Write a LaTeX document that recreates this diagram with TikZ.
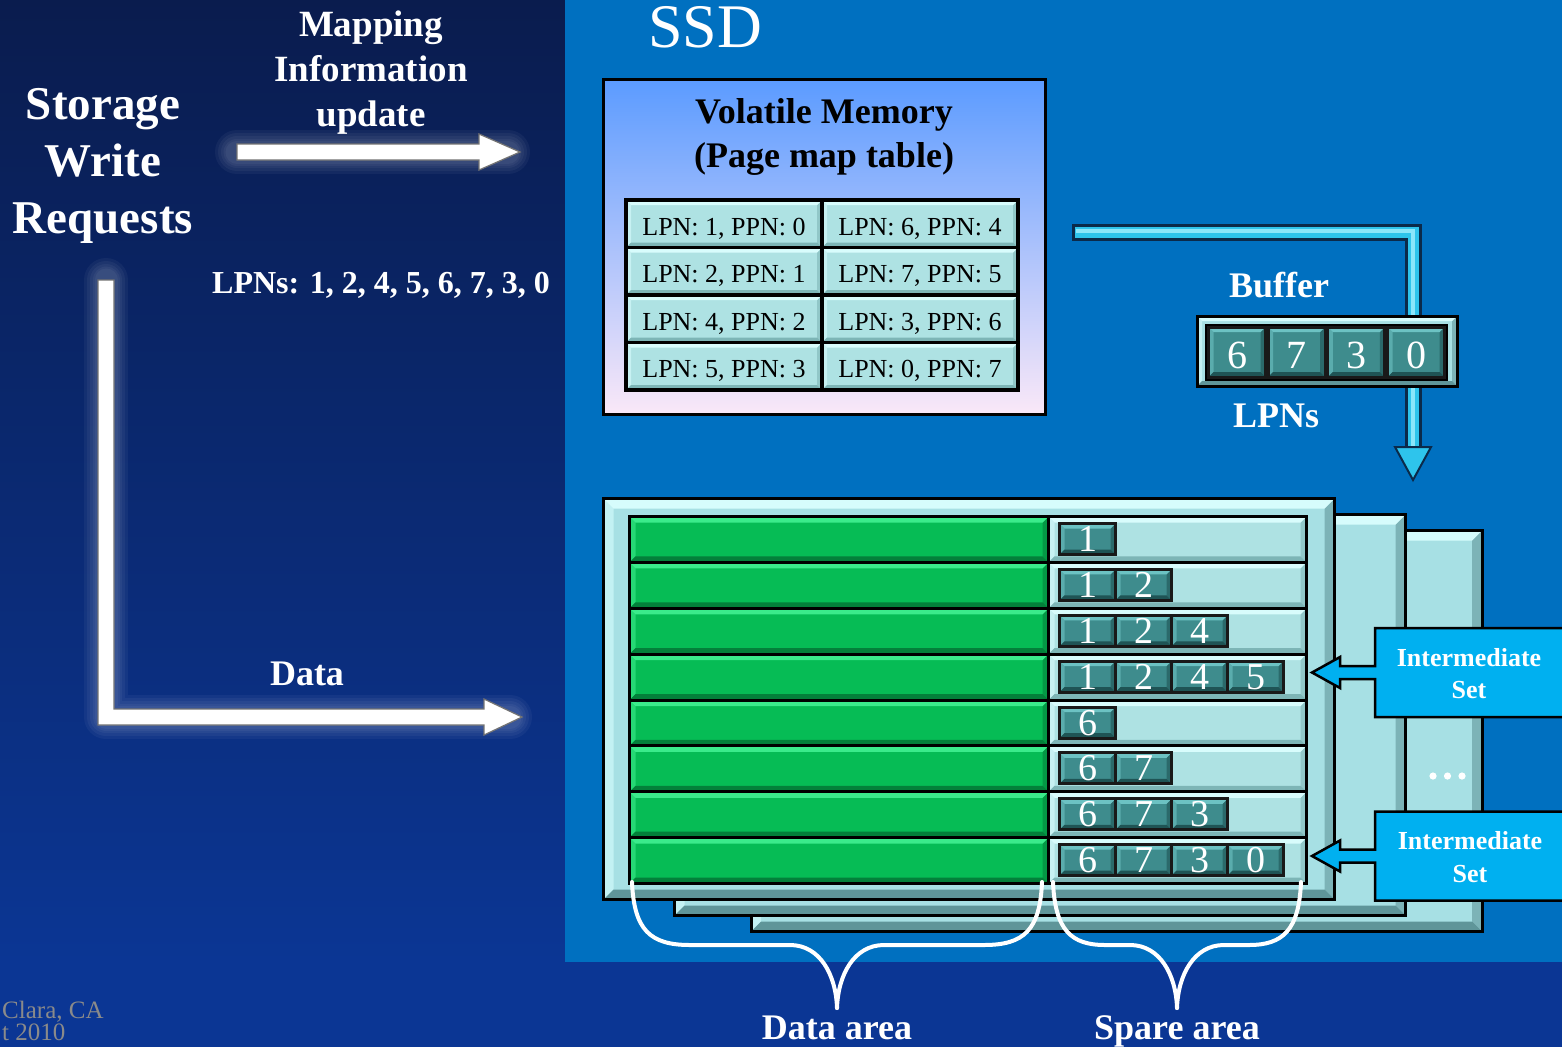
\documentclass[tikz,border=0pt]{standalone}
\usepackage{fontspec}
\setmainfont{Liberation Serif}
\usetikzlibrary{calc}
\newcommand\myfs[1]{\fontsize{#1}{#1}\selectfont}
\definecolor{navyTop}{HTML}{0A1C4E}
\definecolor{navyBot}{HTML}{0B3694}
\definecolor{ssdBlue}{HTML}{0070C0}
\definecolor{stripBlue}{HTML}{0B3694}
\definecolor{vmTop}{HTML}{5B9BFF}
\definecolor{vmBot}{HTML}{FAE8F8}
\definecolor{cellBase}{HTML}{AEE2E3}
\definecolor{cellLight}{HTML}{D8FCFC}
\definecolor{cellDark}{HTML}{7DB5B6}
\definecolor{tealBase}{HTML}{3E8C8D}
\definecolor{tealLight}{HTML}{6CC2C3}
\definecolor{tealDark}{HTML}{1F5455}
\definecolor{greenBase}{HTML}{06BC55}
\definecolor{greenLight}{HTML}{3BEB8B}
\definecolor{greenDark}{HTML}{03803A}
\definecolor{blockBase}{HTML}{A7E0E4}
\definecolor{blockLight}{HTML}{D6FCFC}
\definecolor{blockDark}{HTML}{5F9599}
\definecolor{interBlue}{HTML}{00B0F0}
\definecolor{arrowCyan}{HTML}{2EC4EC}
\definecolor{arrowCyanHi}{HTML}{8BE6FA}
\definecolor{arrowEdge}{HTML}{0B2A4A}
\definecolor{footGrey}{HTML}{8A8A8A}
\tikzset{
  bevel/.style n args={4}{fill=#1, path picture={
    \path (path picture bounding box.north west) coordinate (bvNW)
          (path picture bounding box.north east) coordinate (bvNE)
          (path picture bounding box.south west) coordinate (bvSW)
          (path picture bounding box.south east) coordinate (bvSE);
    \fill[#2!60!#1] (bvNW) -- ([shift={(#4,-#4)}]bvNW) -- ([shift={(#4,#4)}]bvSW) -- (bvSW) -- cycle;
    \fill[#3!60!#1] (bvNE) -- ([shift={(-#4,-#4)}]bvNE) -- ([shift={(-#4,#4)}]bvSE) -- (bvSE) -- cycle;
    \fill[#2] (bvNW) -- (bvNE) -- ([shift={(-#4,-#4)}]bvNE) -- ([shift={(#4,-#4)}]bvNW) -- cycle;
    \fill[#3] (bvSW) -- (bvSE) -- ([shift={(-#4,#4)}]bvSE) -- ([shift={(#4,#4)}]bvSW) -- cycle;
  }},
  tcell/.style={draw=black, line width=3.5pt, bevel={cellBase}{cellLight}{cellDark}{5pt},
    minimum width=196pt, minimum height=47.5pt, inner sep=0pt, font=\myfs{26},
    text height=23pt, text depth=0pt},
  tealcell/.style={draw=black!90, line width=3pt, bevel={tealBase}{tealLight}{tealDark}{5pt},
    text=white, inner sep=0pt, text depth=0pt},
  sparedigit/.style={tealcell, minimum width=56pt, minimum height=31pt, font=\myfs{38}, text height=25pt},
  bufdigit/.style={tealcell, minimum width=57pt, minimum height=50pt, font=\myfs{40}, text height=32pt},
  blockbox/.style={draw=black, line width=3pt, bevel={blockBase}{blockLight}{blockDark}{10pt},
    minimum width=731pt, minimum height=401pt, inner sep=0pt},
  greenbar/.style={draw=black, line width=3pt, bevel={greenBase}{greenLight}{greenDark}{6pt},
    minimum width=419pt, minimum height=45.875pt, inner sep=0pt},
  sparebar/.style={draw=black, line width=3pt, bevel={cellBase}{cellLight}{cellDark}{6pt},
    minimum width=258pt, minimum height=45.875pt, inner sep=0pt},
  callout/.style={fill=interBlue, draw=black, line width=2.5pt, line join=miter},
  wtext/.style={text=white, font=\bfseries\myfs{#1}, inner sep=0pt, anchor=base},
  warrow/.style={fill=white, draw=black!55, line width=1.2pt, line join=miter},
  glow/.style={draw=white, opacity=0.045, line join=round, line cap=round},
  brace/.style={draw=white, line width=4pt, line cap=round},
}
\begin{document}
\begin{tikzpicture}[x=1pt,y=-1pt]
\useasboundingbox (0,0) rectangle (1562,1047);
% backgrounds
\shade[top color=navyTop, bottom color=navyBot] (0,0) rectangle (565,962);
\fill[stripBlue] (0,962) rectangle (1562,1047);
\fill[ssdBlue] (565,0) rectangle (1562,962);

\node[text=white, font=\myfs{62}, inner sep=0pt, anchor=base west] (ssd) at (648,47) {SSD};

% volatile memory
\node[draw=black, line width=3pt, top color=vmTop, bottom color=vmBot,
      minimum width=442pt, minimum height=335pt, inner sep=0pt] (vm) at (824,246.5) {};
\node[font=\bfseries\myfs{36}, inner sep=0pt, anchor=base] (vmt1) at (824,123) {Volatile Memory};
\node[font=\bfseries\myfs{36}, inner sep=0pt, anchor=base] (vmt2) at (824,167) {(Page map table)};
\foreach [count=\r from 0] \a/\b in {{LPN: 1, PPN: 0}/{LPN: 6, PPN: 4},{LPN: 2, PPN: 1}/{LPN: 7, PPN: 5},{LPN: 4, PPN: 2}/{LPN: 3, PPN: 6},{LPN: 5, PPN: 3}/{LPN: 0, PPN: 7}}{
  \pgfmathsetmacro\yc{200+47.5*(\r+0.5)}
  \node[tcell] (pm\r a) at (724,\yc) {\a};
  \node[tcell] (pm\r b) at (920,\yc) {\b};
}

% cyan arrow to flash
\coordinate (cS) at (1072,232);
\coordinate (cC) at (1413,232);
\coordinate (cE) at (1413,480);
\draw[line width=17pt, arrowEdge, line join=miter] (cS) -- (cC) -- ($(cE)+(0,-30)$);
\draw[line width=11pt, arrowCyan, line join=miter, shorten <=3pt] (cS) -- (cC) -- ($(cE)+(0,-28)$);
\draw[line width=3.5pt, arrowCyanHi, line join=miter, shorten <=4pt] ($(cS)+(0,-1)$) -- ($(cC)+(0,-1)$) -- ($(cE)+(0,-30)$);
\draw[fill=arrowCyan, draw=arrowEdge, line width=2pt, line join=miter]
  ($(cE)+(-18,-33)$) -- ($(cE)+(18,-33)$) -- (cE) -- cycle;

% buffer
\node[wtext=36] (buflab) at (1279,297) {Buffer};
\node[draw=black, line width=3pt, bevel={blockBase}{blockLight}{blockDark}{5pt},
      minimum width=260pt, minimum height=70pt, inner sep=0pt] (buf) at (1327,351) {};
\node[fill=black, minimum width=243pt, minimum height=57pt, inner sep=0pt] (bufin) at (1326,352) {};
\foreach [count=\i from 0] \d in {6,7,3,0}{
  \node[bufdigit] (b\i) at ({1237+59.7*\i},352) {\d};
}
\node[wtext=36] (buflpn) at (1276,427) {LPNs};

% flash blocks
\node[blockbox] (blk3) at (1116.5,731) {};
\node[blockbox] (blk2) at (1040,715) {};
\node[blockbox] (blk1) at (969,699) {};
\foreach [count=\r from 0] \lst in {{1},{1,2},{1,2,4},{1,2,4,5},{6},{6,7},{6,7,3},{6,7,3,0}}{
  \pgfmathsetmacro\yt{515+45.875*\r}
  \node[greenbar, anchor=north west] (g\r) at (628,\yt) {};
  \node[sparebar, anchor=north west] (s\r) at (1047,\yt) {};
  \foreach [count=\c from 0] \d in \lst {
    \node[sparedigit, anchor=north west] (t\r-\c) at ({1058+56*\c},{\yt+7}) {\d};
  }
}

% intermediate set callouts
\coordinate (i1) at (1312,672.5);
\coordinate (i2) at (1312,856);
\foreach \p in {i1,i2}{
  \draw[callout] ($(\p)+(256,-44.5)$) -- ($(\p)+(63,-44.5)$) -- ($(\p)+(63,-6.5)$) -- ($(\p)+(28,-6.5)$)
    -- ($(\p)+(28,-15.5)$) -- (\p) -- ($(\p)+(28,15.5)$) -- ($(\p)+(28,6.5)$) -- ($(\p)+(63,6.5)$)
    -- ($(\p)+(63,44.5)$) -- ($(\p)+(256,44.5)$);
}
\node[wtext=26] (is1a) at (1469,666) {Intermediate};
\node[wtext=26] (is1b) at (1469,698) {Set};
\node[wtext=26] (is2a) at (1470,849) {Intermediate};
\node[wtext=26] (is2b) at (1470,882) {Set};
\fill[white] (1433,776) circle (3.6) (1447.5,776) circle (3.6) (1462,776) circle (3.6);

% braces
\coordinate (dA) at (837,1008);
\coordinate (sA) at (1177,1008);
\draw[brace] (632,882) .. controls (634,930) and (650,945) .. (690,945) -- (790,945)
  .. controls (820,945) and (836,975) .. (dA);
\draw[brace] (1042,882) .. controls (1040,930) and (1024,945) .. (984,945) -- (884,945)
  .. controls (854,945) and (838,975) .. (dA);
\draw[brace] (1053,882) .. controls (1055,930) and (1071,945) .. (1105,945) -- (1130,945)
  .. controls (1160,945) and (1176,975) .. (sA);
\draw[brace] (1301,882) .. controls (1299,930) and (1283,945) .. (1249,945) -- (1224,945)
  .. controls (1194,945) and (1178,975) .. (sA);
\node[wtext=36] (darea) at (837,1039) {Data area};
\node[wtext=36] (sarea) at (1177,1039) {Spare area};

% left side
\node[wtext=47] (sw1) at (103,119) {Storage};
\node[wtext=47] (sw2) at (103,176) {Write};
\node[wtext=47] (sw3) at (103,233) {Requests};
\node[wtext=37] (mi1) at (371,36) {Mapping};
\node[wtext=37] (mi2) at (371,81) {Information};
\node[wtext=37] (mi3) at (371,126) {update};
\coordinate (mapS) at (237,152);
\coordinate (mapE) at (520,152);
\coordinate (dS) at (106,280);
\coordinate (dC) at (106,717);
\coordinate (dE) at (522,717);
\foreach \w in {44,38,32,27,23}{
  \draw[glow, line width=\w pt] (mapS) -- ($(mapE)+(-12,0)$);
  \draw[glow, line width=\w pt] (dS) -- (dC) -- ($(dE)+(-12,0)$);
}
\draw[warrow] ($(mapS)+(0,-8)$) -- ($(mapE)+(-41,-8)$) -- ($(mapE)+(-41,-18)$) -- (mapE)
  -- ($(mapE)+(-41,18)$) -- ($(mapE)+(-41,8)$) -- ($(mapS)+(0,8)$) -- cycle;
\node[wtext=32, anchor=base west] (lpns) at (212,293) {LPNs: 1, 2, 4, 5, 6, 7, 3, 0};
\draw[warrow] ($(dS)+(-8,0)$) -- ($(dC)+(-8,8)$) -- ($(dE)+(-38,8)$) -- ($(dE)+(-38,18)$) -- (dE)
  -- ($(dE)+(-38,-18)$) -- ($(dE)+(-38,-8)$) -- ($(dC)+(8,-8)$) -- ($(dS)+(8,0)$) -- cycle;
\node[wtext=36] (datal) at (307,685) {Data};

% footer
\node[text=footGrey, font=\myfs{25}, inner sep=0pt, anchor=base west] (ft1) at (2,1018) {Clara, CA};
\node[text=footGrey, font=\myfs{25}, inner sep=0pt, anchor=base west] (ft2) at (2,1040) {t 2010};
\end{tikzpicture}
\end{document}
